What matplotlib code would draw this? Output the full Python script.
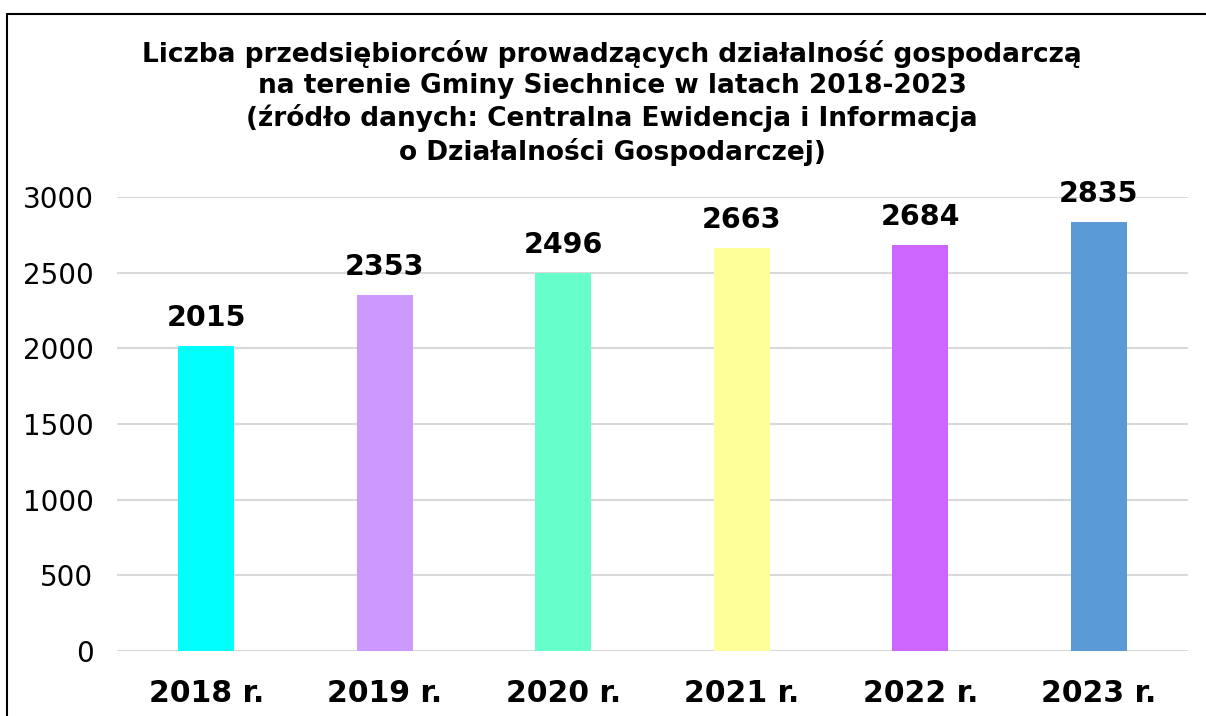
import matplotlib.pyplot as plt
from matplotlib.patches import Rectangle

years = ["2018 r.", "2019 r.", "2020 r.", "2021 r.", "2022 r.", "2023 r."]
counts = [2015, 2353, 2496, 2663, 2684, 2835]
colors = ["#00FFFF", "#CC99FF", "#66FFCC", "#FFFF99", "#CC66FF", "#5B9BD5"]

title = ("Liczba przedsiębiorców prowadzących działalność gospodarczą\n"
         "na terenie Gminy Siechnice w latach 2018-2023\n"
         "(źródło danych: Centralna Ewidencja i Informacja\n"
         "o Działalności Gospodarczej)")

plt.rcParams['font.family'] = ['DejaVu Sans']

fig = plt.figure(figsize=(12.06, 7.16), dpi=100)
ax = fig.add_axes([117 / 1206, 1 - 651 / 716, (1188 - 117) / 1206, (651 - 197) / 716])

x = range(len(years))
bars = ax.bar(x, counts, width=0.314, color=colors, zorder=2)

for b, v in zip(bars, counts):
    ax.annotate(str(v), (b.get_x() + b.get_width() / 2, v), xytext=(0, 10),
                textcoords="offset points", ha="center", va="bottom",
                fontsize=20.5, fontweight="bold", annotation_clip=False)

ax.set_xlim(-0.5, len(years) - 0.5)
ax.set_ylim(0, 3000)
ax.set_yticks(range(0, 3001, 500))
ax.set_xticks(list(x))
ax.set_xticklabels(years, fontsize=21.5, fontweight="bold")
ax.tick_params(axis="x", length=0, pad=20)
ax.tick_params(axis="y", length=0, labelsize=20, pad=17)
ax.grid(axis="y", color="#D9D9D9", linewidth=1.5, zorder=0)
for s in ax.spines.values():
    s.set_visible(False)

fig.text(612 / 1206, 1 - 103 / 716, title, ha="center", va="center",
         fontsize=19, fontweight="bold", linespacing=1.25)

# outer frame, right and bottom edges run off the picture
fig.patches.append(Rectangle((7 / 1206, -0.05), 1.1, 1 - 14 / 716 + 0.05,
                             transform=fig.transFigure, fill=False,
                             edgecolor="black", linewidth=1.5))

fig.savefig("out.png", dpi=100)
